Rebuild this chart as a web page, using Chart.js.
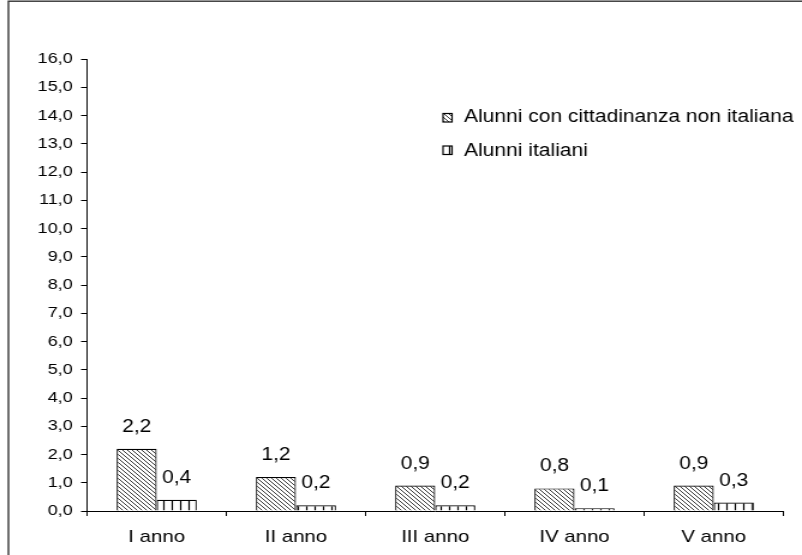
<!DOCTYPE html>
<html>
<head>
<meta charset="utf-8">
<script src="https://cdn.jsdelivr.net/npm/chart.js@4.4.1/dist/chart.umd.min.js"></script>
<style>
  html, body { margin: 0; padding: 0; background: #fff; overflow: hidden; }
  /* the chart is laid out narrower and widened horizontally, giving the broad lettering */
  #wrap { position: absolute; left: 0; top: 0; width: 668px; height: 555px;
          transform: scaleX(1.2006); transform-origin: 0 0; }
</style>
</head>
<body>
<div id="wrap"><canvas id="c"></canvas></div>
<script>
const categories = ['I anno', 'II anno', 'III anno', 'IV anno', 'V anno'];
const seriesNames = ['Alunni con cittadinanza non italiana', 'Alunni italiani'];
const nonItaliani = [2.2, 1.2, 0.9, 0.8, 0.9];
const italiani = [0.4, 0.2, 0.2, 0.1, 0.3];
const yTicks = { min: 0, max: 16, step: 1 };

const FONT = '"Liberation Sans", Arial, sans-serif';
const fmt = v => v.toFixed(1).replace('.', ',');

function makePattern(size, drawTile) {
  const t = document.createElement('canvas');
  t.width = size; t.height = size;
  const g = t.getContext('2d');
  g.fillStyle = '#fff';
  g.fillRect(0, 0, size, size);
  g.strokeStyle = '#000';
  drawTile(g, size);
  return document.getElementById('c').getContext('2d').createPattern(t, 'repeat');
}

// backslash hatching
const hatch = makePattern(4, (g, s) => {
  g.lineWidth = 0.9;
  g.strokeStyle = '#222';
  g.beginPath();
  g.moveTo(-1, -1); g.lineTo(s + 1, s + 1);
  g.moveTo(-1, s - 1); g.lineTo(1, s + 1);
  g.moveTo(s - 1, -1); g.lineTo(s + 1, 1);
  g.stroke();
});
// vertical stripes
const stripes = makePattern(7, (g, s) => {
  g.lineWidth = 1.2;
  g.beginPath();
  g.moveTo(3.5, 0); g.lineTo(3.5, s);
  g.stroke();
});
const patterns = [hatch, stripes];

const framePlugin = {
  id: 'frame',
  beforeDraw(chart) {
    const ctx = chart.ctx;
    ctx.save();
    ctx.fillStyle = '#fff';
    ctx.fillRect(0, 0, chart.width, chart.height);
    ctx.strokeStyle = '#333';
    ctx.lineWidth = 1.4;
    ctx.strokeRect(7.0, 1.2, chart.width + 20, chart.height + 20);
    ctx.restore();
  }
};

const valueLabels = {
  id: 'valueLabels',
  afterDatasetsDraw(chart) {
    const ctx = chart.ctx;
    ctx.save();
    ctx.font = '17.5px ' + FONT;
    ctx.fillStyle = '#000';
    ctx.textAlign = 'center';
    ctx.textBaseline = 'alphabetic';
    chart.data.datasets.forEach((ds, i) => {
      chart.getDatasetMeta(i).data.forEach((bar, j) => {
        ctx.fillText(fmt(ds.data[j]), bar.x, bar.y - 17);
      });
    });
    ctx.restore();
  }
};

const legendBox = {
  id: 'legendBox',
  afterDraw(chart) {
    const ctx = chart.ctx;
    const rows = [{ box: 113.5, base: 122 }, { box: 146, base: 155.5 }];
    ctx.save();
    ctx.font = '17.5px ' + FONT;
    ctx.textBaseline = 'alphabetic';
    ctx.textAlign = 'left';
    chart.data.datasets.forEach((ds, i) => {
      const r = rows[i];
      ctx.fillStyle = patterns[i];
      ctx.fillRect(369, r.box, 7.5, 8.5);
      ctx.strokeStyle = '#000';
      ctx.lineWidth = 1.2;
      ctx.strokeRect(369, r.box, 7.5, 8.5);
      ctx.fillStyle = '#000';
      ctx.fillText(ds.label, 386.5, r.base);
    });
    ctx.restore();
  }
};

new Chart(document.getElementById('c'), {
  type: 'bar',
  data: {
    labels: categories,
    datasets: [
      { label: seriesNames[0], data: nonItaliani, backgroundColor: hatch,
        borderColor: '#000', borderWidth: 1.2 },
      { label: seriesNames[1], data: italiani, backgroundColor: stripes,
        borderColor: '#000', borderWidth: 1.2 }
    ]
  },
  options: {
    responsive: true,
    maintainAspectRatio: false,
    animation: false,
    devicePixelRatio: 1,
    layout: { padding: { top: 59, right: 15.5, bottom: 0, left: 0 } },
    datasets: { bar: { categoryPercentage: 0.575, barPercentage: 1.0 } },
    plugins: { legend: { display: false }, tooltip: { enabled: false } },
    scales: {
      x: {
        grid: { display: true, drawOnChartArea: false, drawTicks: true, tickLength: 5,
                color: '#000', offset: true },
        border: { display: true, color: '#000', width: 1 },
        ticks: { color: '#000', font: { family: FONT, size: 17 }, padding: 11,
                 maxRotation: 0, autoSkip: false },
        afterFit(scale) { scale.height = 44; }
      },
      y: {
        min: yTicks.min, max: yTicks.max,
        grid: { display: true, drawOnChartArea: false, drawTicks: true, tickLength: 5,
                color: '#000' },
        border: { display: true, color: '#000', width: 1 },
        ticks: { stepSize: yTicks.step, color: '#000', font: { family: FONT, size: 15 },
                 padding: 7, callback: v => fmt(v) },
        afterFit(scale) { scale.width = 72.5; }
      }
    }
  },
  plugins: [framePlugin, valueLabels, legendBox]
});
</script>
</body>
</html>
